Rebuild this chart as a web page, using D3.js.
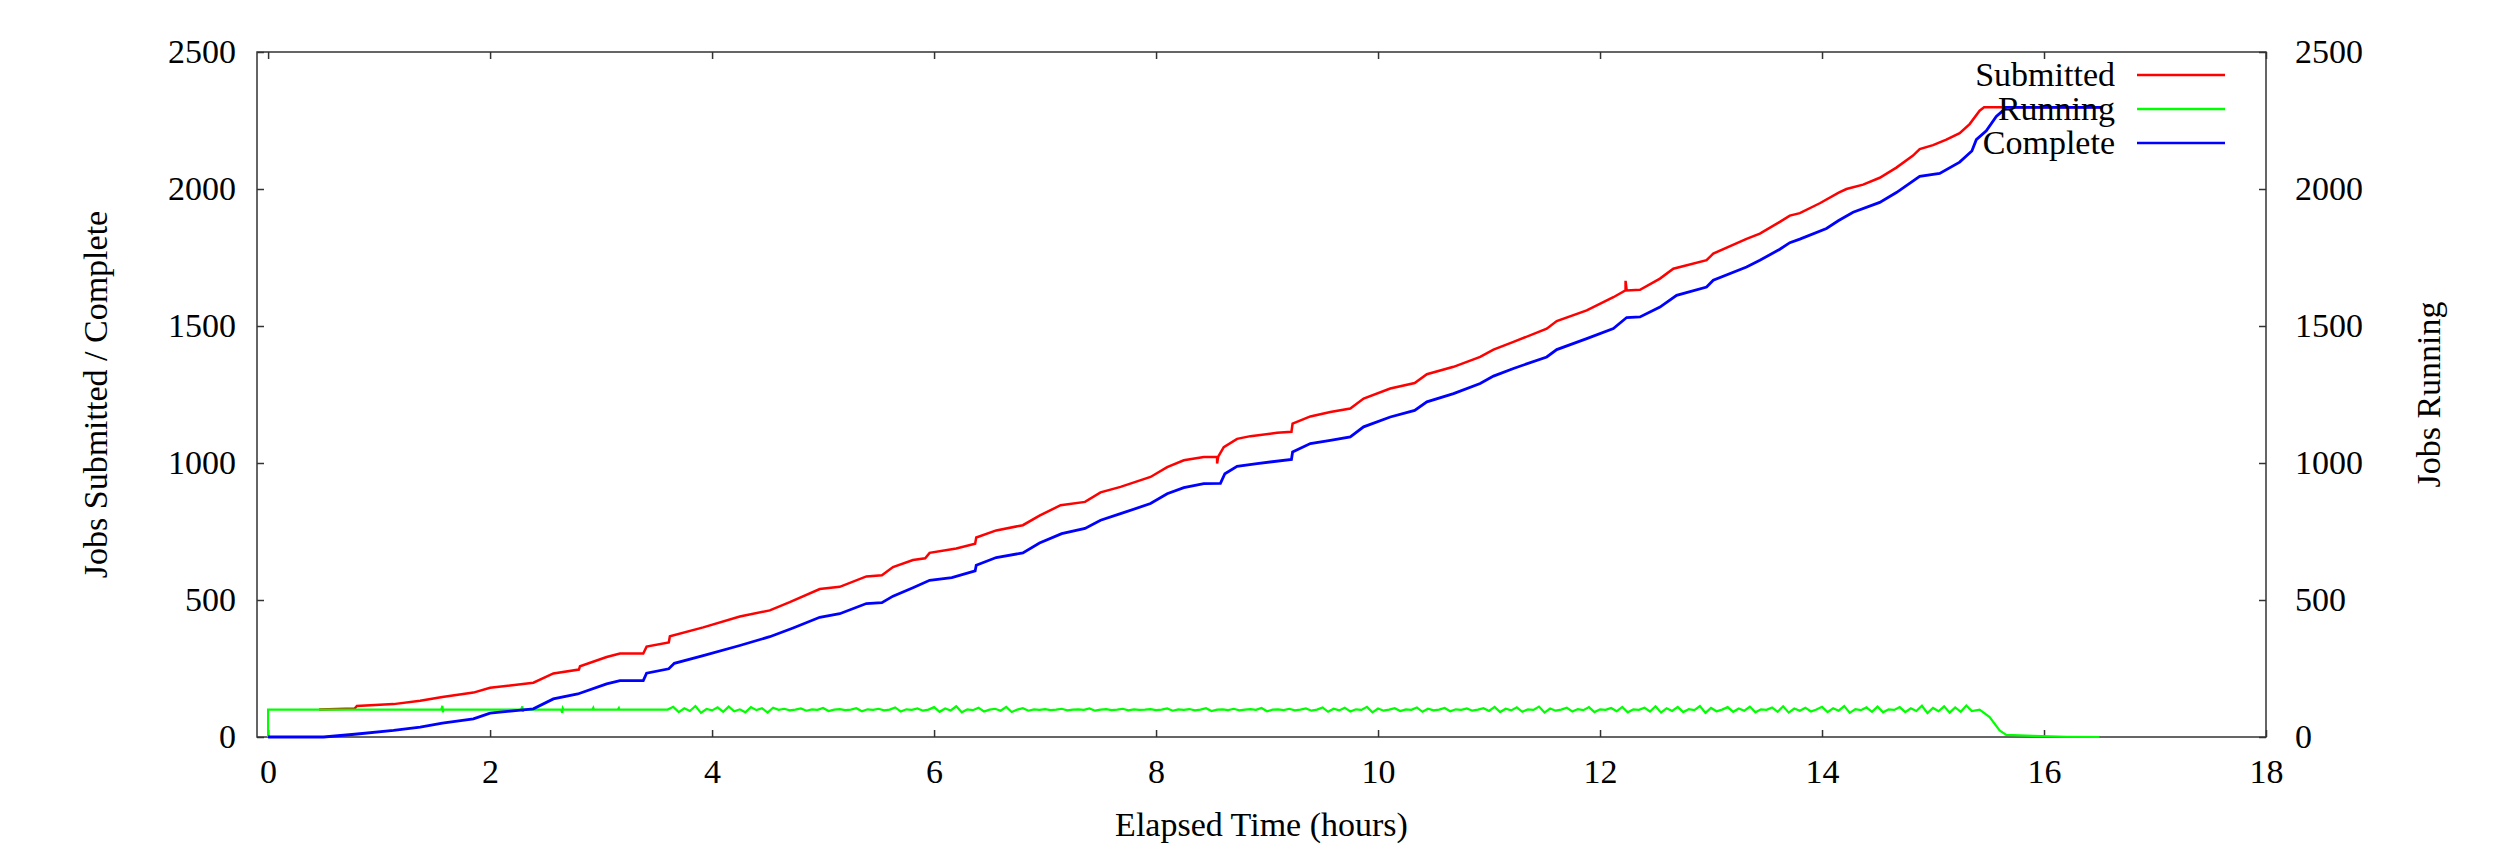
<!DOCTYPE html>
<html>
<head>
<meta charset="utf-8">
<script src="https://cdn.jsdelivr.net/npm/d3@7"></script>
<style>
	body { margin: 0; background: #fff; }
	text { font-family: "Liberation Serif", "Times New Roman", serif; }
</style>
</head>
<body>
<script>

// hours on x, jobs on y
var xTicks = [0, 2, 4, 6, 8, 10, 12, 14, 16, 18];
var yTicks = [0, 500, 1000, 1500, 2000, 2500];

var submitted = [
	[0.46,100],[0.78,104],[0.80,113],[1.13,120],[1.37,132],[1.57,146],[1.85,162],[2.0,180],
	[2.39,198],[2.57,232],[2.80,246],[2.81,258],[3.05,292],[3.17,305],[3.38,305],[3.41,330],
	[3.61,345],[3.62,368],[3.92,400],[4.25,440],[4.52,462],[4.70,492],[4.97,540],[5.15,548],
	[5.39,586],[5.53,590],[5.63,620],[5.81,646],[5.92,652],[5.96,672],[6.20,688],[6.37,705],
	[6.38,728],[6.56,754],[6.80,773],[6.95,808],[7.14,846],[7.36,858],[7.50,893],[7.68,913],
	[7.95,949],[8.10,985],[8.25,1010],[8.43,1022],[8.55,1023],[8.55,998],[8.56,1023],[8.61,1058],
	[8.73,1088],[8.85,1098],[9.09,1110],[9.22,1114],[9.23,1144],[9.39,1170],[9.57,1186],[9.75,1199],
	[9.87,1235],[10.11,1272],[10.33,1292],[10.44,1324],[10.68,1351],[10.92,1387],[11.04,1414],
	[11.22,1442],[11.52,1490],[11.61,1518],[11.88,1557],[12.12,1605],[12.23,1630],[12.23,1665],
	[12.24,1630],[12.36,1632],[12.54,1673],[12.66,1709],[12.96,1740],[13.02,1764],[13.32,1818],
	[13.44,1837],[13.62,1880],[13.71,1903],[13.80,1912],[13.98,1948],[14.15,1987],[14.22,2000],
	[14.37,2016],[14.52,2041],[14.67,2078],[14.82,2122],[14.88,2146],[15.00,2160],[15.12,2180],
	[15.24,2204],[15.33,2237],[15.42,2286],[15.46,2298],[16.53,2298]
];

var complete = [
	[0,0],[0.5,0],[0.78,10],[1.13,24],[1.37,36],[1.57,51],[1.85,66],[2.0,87],[2.39,103],
	[2.57,139],[2.79,157],[3.05,194],[3.17,206],[3.38,206],[3.41,233],[3.61,249],[3.66,269],
	[3.92,297],[4.25,334],[4.52,366],[4.73,398],[4.97,437],[5.15,450],[5.39,487],[5.53,490],
	[5.63,514],[5.81,545],[5.96,572],[6.16,582],[6.37,606],[6.38,627],[6.56,655],[6.80,672],
	[6.95,708],[7.15,742],[7.36,761],[7.50,791],[7.68,815],[7.95,852],[8.10,888],[8.25,910],
	[8.43,925],[8.58,926],[8.62,961],[8.73,988],[8.91,998],[9.22,1013],[9.23,1040],[9.39,1071],
	[9.57,1083],[9.75,1095],[9.87,1132],[10.11,1168],[10.33,1192],[10.44,1223],[10.68,1253],
	[10.92,1290],[11.04,1317],[11.22,1345],[11.52,1387],[11.61,1414],[11.88,1454],[12.12,1491],
	[12.24,1531],[12.36,1533],[12.54,1569],[12.69,1612],[12.96,1642],[13.02,1667],[13.32,1715],
	[13.44,1740],[13.62,1780],[13.71,1804],[13.80,1817],[14.04,1856],[14.15,1885],[14.28,1915],
	[14.52,1951],[14.67,1987],[14.88,2046],[15.06,2057],[15.24,2098],[15.35,2139],[15.39,2180],
	[15.48,2212],[15.57,2265],[15.63,2286],[15.66,2298],[16.53,2298]
];

// running: the quiet start, a sampled noisy middle, then the drain at the end
var runningStart = [
	[0,0],[0,100],[1.56,100],[1.57,114],[1.575,90],[1.58,100],[2.28,100],[2.29,112],[2.295,92],
	[2.30,100],[2.64,100],[2.65,88],[2.655,104],[2.66,100],[2.92,100],[2.93,107],[2.935,100],
	[3.15,100],[3.16,106],[3.165,100],[3.60,100]
];
var runningFrom = 3.65, runningStep = 0.05;
var runningMid = [
	110,91,105,95,113,88,102,97,108,92,111,94,101,90,109,98,105,89,107,99,
	103,97,100,104,96,101,99,106,95,100,102,98,100,105,94,101,99,103,97,100,108,93,101,99,104,96,100,
	109,92,104,97,112,90,101,98,107,93,100,103,96,110,91,100,105,96,101,99,
	102,98,100,103,97,100,101,99,104,96,100,102,98,100,103,97,101,99,100,102,
	98,100,104,96,101,99,102,97,100,105,95,100,101,98,103,97,100,102,99,106,94,100,101,98,103,97,100,104,96,100,
	108,92,103,97,107,93,101,99,110,90,104,96,100,105,95,101,99,108,92,103,97,100,106,94,101,99,104,96,100,105,
	95,110,91,103,97,108,92,101,99,111,89,104,96,100,107,93,102,98,109,91,101,99,106,94,110,90,101,99,107,93,
	112,89,105,95,110,91,102,98,113,88,106,94,100,109,92,104,96,111,90,101,99,108,92,112,89,104,96,107,93,100,
	110,91,105,96,113,88,102,98,108,92,111,90,101,99,109,91,105,95,114,87,106,94,112,89,108,92,115,95
];
var runningEnd = [
	[15.42,100],[15.51,73],[15.60,24],[15.66,8],[15.9,4],[16.2,1],[16.5,0]
];

var legendNames = ["Submitted", "Running", "Complete"];
var legendColors = ["#ff0000", "#00ff00", "#0000ff"];

var w = 2500;
var h = 857;
var plotL = 257, plotR = 2266, plotT = 52, plotB = 737;

var running = runningStart.slice();
runningMid.forEach(function(v, i) {
	running.push([runningFrom + i * runningStep, v]);
});
running = running.concat(runningEnd);

var svg = d3.select("body")
	.append("svg")
	.attr("width", w)
	.attr("height", h);

var x = d3.scaleLinear().domain([-0.1, 18]).range([plotL, plotR]);
var y = d3.scaleLinear().domain([0, 2500]).range([plotB, plotT]);
var y2 = d3.scaleLinear().domain([0, 2500]).range([plotB, plotT]);

var fmt = d3.format("d");

function styleAxis(g) {
	g.select(".domain").remove();
	g.selectAll(".tick line").attr("stroke", "#333").attr("stroke-width", 1.5);
	g.selectAll(".tick text").attr("font-size", 34).attr("fill", "#000")
		.style("font-family", '"Liberation Serif", serif');
}

svg.append("g")
	.attr("transform", "translate(0," + plotB + ")")
	.call(d3.axisBottom(x).tickValues(xTicks).tickFormat(fmt).tickSizeInner(-7).tickSizeOuter(0).tickPadding(22))
	.call(styleAxis);

svg.append("g")
	.attr("transform", "translate(0," + plotT + ")")
	.call(d3.axisTop(x).tickValues(xTicks).tickSizeInner(-7).tickSizeOuter(0).tickFormat(""))
	.call(styleAxis);

svg.append("g")
	.attr("transform", "translate(" + plotL + ",0)")
	.call(d3.axisLeft(y).tickValues(yTicks).tickFormat(fmt).tickSizeInner(-7).tickSizeOuter(0).tickPadding(21))
	.call(styleAxis);

svg.append("g")
	.attr("transform", "translate(" + plotR + ",0)")
	.call(d3.axisRight(y2).tickValues(yTicks).tickFormat(fmt).tickSizeInner(-7).tickSizeOuter(0).tickPadding(29))
	.call(styleAxis);

svg.append("rect")
	.attr("x", plotL)
	.attr("y", plotT)
	.attr("width", plotR - plotL)
	.attr("height", plotB - plotT)
	.attr("fill", "none")
	.attr("stroke", "#333")
	.attr("stroke-width", 1.5);

var line = d3.line()
	.x(function(d) { return x(d[0]); })
	.y(function(d) { return y(d[1]); });

var line2 = d3.line()
	.x(function(d) { return x(d[0]); })
	.y(function(d) { return y2(d[1]); });

svg.append("path")
	.attr("d", line(submitted))
	.attr("fill", "none")
	.attr("stroke", legendColors[0])
	.attr("stroke-width", 2.5);

svg.append("path")
	.attr("d", line2(running))
	.attr("fill", "none")
	.attr("stroke", legendColors[1])
	.attr("stroke-width", 2.2);

svg.append("path")
	.attr("d", line(complete))
	.attr("fill", "none")
	.attr("stroke", legendColors[2])
	.attr("stroke-width", 2.8);

// legend, top right inside the frame
var legend = svg.selectAll(".legend")
	.data(legendNames)
	.enter()
	.append("g")
	.attr("transform", function(d, i) { return "translate(0," + (75 + i * 34) + ")"; });

legend.append("text")
	.attr("x", 2115)
	.attr("dy", "0.33em")
	.attr("text-anchor", "end")
	.attr("font-size", 34)
	.text(function(d) { return d; });

legend.append("line")
	.attr("x1", 2137)
	.attr("x2", 2225)
	.attr("stroke", function(d, i) { return legendColors[i]; })
	.attr("stroke-width", 2.5);

svg.append("text")
	.attr("x", (plotL + plotR) / 2)
	.attr("y", 836)
	.attr("text-anchor", "middle")
	.attr("font-size", 34)
	.text("Elapsed Time (hours)");

svg.append("text")
	.attr("transform", "translate(107," + (plotT + plotB) / 2 + ") rotate(-90)")
	.attr("text-anchor", "middle")
	.attr("font-size", 34)
	.text("Jobs Submitted / Complete");

svg.append("text")
	.attr("transform", "translate(2440," + (plotT + plotB) / 2 + ") rotate(-90)")
	.attr("text-anchor", "middle")
	.attr("font-size", 34)
	.text("Jobs Running");

</script>
</body>
</html>
